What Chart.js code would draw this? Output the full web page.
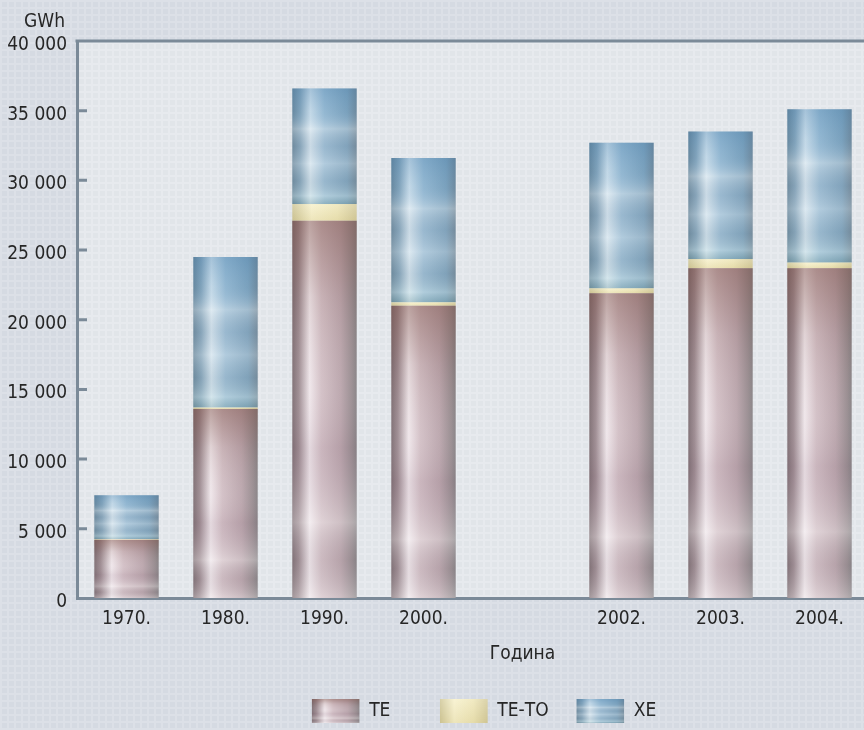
<!DOCTYPE html>
<html>
<head>
<meta charset="utf-8">
<script src="https://cdn.jsdelivr.net/npm/chart.js@4.4.1/dist/chart.umd.min.js"></script>
<style>
  html, body { margin: 0; padding: 0; background: #d6dbe3; }
  #wrap { width: 864px; height: 730px; overflow: hidden; position: relative; }
  canvas { display: block; }
</style>
</head>
<body>
<div id="wrap"><canvas id="chart" width="972" height="730"></canvas></div>
<script>
// data (GWh)
const categories = ["1970.", "1980.", "1990.", "2000.", "", "2002.", "2003.", "2004.", ""];
const teValues = [4200, 13600, 27100, 21000, null, 21900, 23700, 23700, null];
const tetoValues = [60, 100, 1200, 250, null, 350, 650, 400, null];
const xeValues = [3140, 10800, 8300, 10350, null, 10450, 9150, 11000, null];
const seriesLabels = ["ТЕ", "ТЕ-ТО", "ХЕ"];
const yTicks = [0, 5000, 10000, 15000, 20000, 25000, 30000, 35000, 40000];

const FONT = "'Liberation Sans Narrow', 'Arial Narrow', 'DejaVu Sans Condensed', sans-serif";
const TEXT = "#262626";
const AXIS = "#7b8a98";
const BAR_FRACTION = 0.65;
// trailing spaces widen legend items without adding vertical padding
const legendGaps = ["        ", "    ", ""];

// horizontal shading across each bar: dark edges, light streak left of centre
const hStops = [
  [[0, "#7c6c71"], [0.1, "#9c8a90"], [0.27, "#efe6ea"], [0.45, "#d2bfc5"], [0.75, "#baa5ac"], [0.93, "#978b8f"], [1, "#858083"]],
  [[0, "#cfc799"], [0.3, "#f7f1cc"], [0.7, "#eee6b8"], [1, "#d3ca9c"]],
  [[0, "#6a889c"], [0.12, "#86a5ba"], [0.28, "#d3e3ed"], [0.5, "#9cbdd4"], [0.85, "#80a4bd"], [1, "#72899a"]]
];
// vertical overlay (alpha colours) from top of bar to its base
const vStops = [
  [[0, "rgba(125,80,70,0.45)"], [0.2, "rgba(125,80,70,0.12)"], [0.45, "rgba(255,255,255,0.05)"], [0.6, "rgba(150,120,140,0.12)"], [0.8, "rgba(255,255,255,0.3)"], [0.9, "rgba(160,150,160,0.12)"], [1, "rgba(255,255,255,0.3)"]],
  [[0, "rgba(255,255,255,0.15)"], [1, "rgba(180,160,90,0.15)"]],
  [[0, "rgba(60,120,170,0.3)"], [0.2, "rgba(80,140,190,0.12)"], [0.35, "rgba(255,255,255,0.28)"], [0.5, "rgba(140,155,175,0.12)"], [0.65, "rgba(255,255,255,0.22)"], [0.8, "rgba(130,150,165,0.15)"], [0.93, "rgba(215,235,235,0.35)"], [1, "rgba(110,150,150,0.3)"]]
];

function addStops(g, stops) {
  stops.forEach(([o, c]) => g.addColorStop(o, c));
  return g;
}

function barFill(series) {
  return (context) => {
    const chart = context.chart;
    const xScale = chart.scales.x;
    if (!xScale || !chart.chartArea || context.dataIndex === undefined) return hStops[series][3][1];
    const cx = xScale.getPixelForValue(context.dataIndex);
    const half = (xScale.width / categories.length) * BAR_FRACTION / 2;
    return addStops(chart.ctx.createLinearGradient(cx - half, 0, cx + half, 0), hStops[series]);
  };
}

const canvas = document.getElementById("chart");
const mainCtx = canvas.getContext("2d");

// legend swatches: small textured canvases used as patterns
const legendFills = [0, 1, 2].map((i) => {
  const c = document.createElement("canvas");
  c.width = 48; c.height = 24;
  const g = c.getContext("2d");
  g.fillStyle = addStops(g.createLinearGradient(0, 0, 48, 0), hStops[i]);
  g.fillRect(0, 0, 48, 24);
  g.fillStyle = addStops(g.createLinearGradient(0, 0, 0, 24), vStops[i]);
  g.fillRect(0, 0, 48, 24);
  return mainCtx.createPattern(c, "no-repeat");
});

function plaid(ctx, base, light) {
  const c = document.createElement("canvas");
  c.width = 7; c.height = 7;
  const g = c.getContext("2d");
  g.fillStyle = base;
  g.fillRect(0, 0, 7, 7);
  g.fillStyle = light;
  g.fillRect(0, 0, 7, 2);
  g.fillRect(0, 0, 2, 7);
  return ctx.createPattern(c, "repeat");
}

const backdrop = {
  id: "backdrop",
  beforeDraw(chart) {
    const { ctx, chartArea: a, width, height } = chart;
    ctx.save();
    ctx.fillStyle = plaid(ctx, "#d5dae2", "#dce0e7");
    ctx.fillRect(0, 0, width, height);
    ctx.fillStyle = plaid(ctx, "#e1e5e9", "#e7eaee");
    ctx.fillRect(a.left, a.top, a.right - a.left, a.bottom - a.top);
    ctx.restore();

    // legend swatches follow their boxes
    if (chart.legend && chart.legend.legendHitBoxes) {
      chart.legend.legendHitBoxes.forEach((hb, i) => {
        legendFills[i].setTransform(new DOMMatrix().translate(hb.left, hb.top + (hb.height - 24) / 2));
      });
    }
  },
  afterDatasetsDraw(chart) {
    const ctx = chart.ctx;
    chart.data.datasets.forEach((ds, i) => {
      chart.getDatasetMeta(i).data.forEach((bar) => {
        if (bar.skip || bar.y === undefined || isNaN(bar.y)) return;
        const top = Math.min(bar.y, bar.base);
        const h = Math.abs(bar.base - bar.y);
        if (h < 1) return;
        ctx.save();
        ctx.fillStyle = addStops(ctx.createLinearGradient(0, top, 0, top + h), vStops[i]);
        ctx.fillRect(bar.x - bar.width / 2, top, bar.width, h);
        ctx.restore();
      });
    });
  },
  afterDraw(chart) {
    const { ctx, chartArea: a } = chart;
    const y = chart.scales.y;
    ctx.save();
    ctx.strokeStyle = AXIS;
    ctx.lineWidth = 3;
    ctx.beginPath();
    ctx.moveTo(a.left - 1.5, a.top);
    ctx.lineTo(chart.width, a.top);
    yTicks.forEach((v) => {
      if (v === 0) return;
      const py = y.getPixelForValue(v);
      ctx.moveTo(a.left, py);
      ctx.lineTo(a.left + 10, py);
    });
    ctx.stroke();
    ctx.fillStyle = TEXT;
    ctx.font = "19px " + FONT;
    ctx.textAlign = "right";
    ctx.textBaseline = "alphabetic";
    ctx.fillText("GWh", a.left - 12, a.top - 14);
    ctx.restore();
  }
};

function makeDataset(i, values) {
  return {
    label: seriesLabels[i],
    data: values,
    backgroundColor: barFill(i),
    borderWidth: 0,
    barPercentage: BAR_FRACTION,
    categoryPercentage: 1
  };
}

new Chart(canvas, {
  type: "bar",
  data: {
    labels: categories,
    datasets: [makeDataset(0, teValues), makeDataset(1, tetoValues), makeDataset(2, xeValues)]
  },
  options: {
    responsive: false,
    animation: false,
    devicePixelRatio: 1,
    layout: { padding: { top: 41, right: 4, left: 0, bottom: -3 } },
    plugins: {
      tooltip: { enabled: false },
      legend: {
        position: "bottom",
        labels: {
          boxWidth: 48,
          boxHeight: 24,
          padding: 6,
          color: TEXT,
          font: { family: FONT, size: 19 },
          generateLabels: (chart) => chart.data.datasets.map((ds, i) => ({
            text: ds.label + legendGaps[i],
            fillStyle: legendFills[i],
            strokeStyle: "rgba(0,0,0,0)",
            lineWidth: 0,
            hidden: false,
            datasetIndex: i,
            fontColor: TEXT
          }))
        }
      }
    },
    scales: {
      x: {
        stacked: true,
        grid: { display: true, drawOnChartArea: false, drawTicks: false, color: "rgba(0,0,0,0)" },
        border: { color: AXIS, width: 3 },
        ticks: { color: TEXT, font: { family: FONT, size: 19 }, padding: 9, maxRotation: 0, autoSkip: false },
        title: { display: true, text: "Година", color: TEXT, font: { family: FONT, size: 19 }, padding: { top: 3, bottom: 28 } }
      },
      y: {
        stacked: true,
        min: 0,
        max: 40000,
        afterFit: (scale) => { scale.width = 77; },
        afterBuildTicks: (scale) => { scale.ticks = yTicks.map((v) => ({ value: v })); },
        grid: { display: true, drawOnChartArea: false, drawTicks: false, color: "rgba(0,0,0,0)" },
        border: { color: AXIS, width: 3 },
        ticks: {
          color: TEXT,
          font: { family: FONT, size: 19 },
          padding: 10,
          labelOffset: 4,
          callback: (v) => String(v).replace(/\B(?=(\d{3})+(?!\d))/g, " ")
        }
      }
    }
  },
  plugins: [backdrop]
});
</script>
</body>
</html>
